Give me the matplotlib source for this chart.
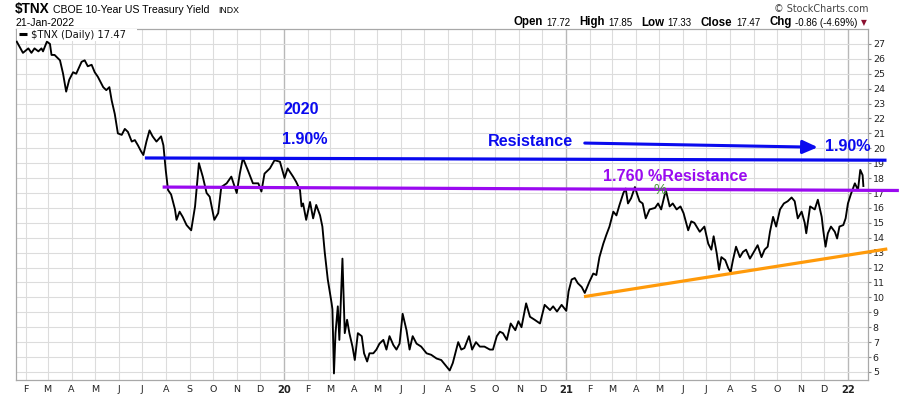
import matplotlib
matplotlib.use("Agg")
import matplotlib.pyplot as plt
import pandas as pd
from matplotlib.patches import Rectangle

# ---------------- data ----------------
dates = [
    "2019-01-20", "2019-01-28", "2019-02-04", "2019-02-08", "2019-02-12", "2019-02-17", "2019-02-21",
    "2019-02-23", "2019-02-28", "2019-03-04", "2019-03-06", "2019-03-10", "2019-03-17", "2019-03-21",
    "2019-03-25", "2019-03-29", "2019-04-03", "2019-04-07", "2019-04-14", "2019-04-18", "2019-04-22",
    "2019-04-27", "2019-05-01", "2019-05-05", "2019-05-12", "2019-05-16", "2019-05-20", "2019-05-23",
    "2019-05-27", "2019-05-31", "2019-06-05", "2019-06-09", "2019-06-13", "2019-06-18", "2019-06-22",
    "2019-06-26", "2019-06-30", "2019-07-03", "2019-07-07", "2019-07-11", "2019-07-15", "2019-07-20",
    "2019-07-26", "2019-07-29", "2019-08-01", "2019-08-04", "2019-08-08", "2019-08-13", "2019-08-15",
    "2019-08-19", "2019-08-23", "2019-08-28", "2019-09-03", "2019-09-08", "2019-09-13", "2019-09-18",
    "2019-09-23", "2019-09-27", "2019-10-03", "2019-10-08", "2019-10-12", "2019-10-19", "2019-10-25",
    "2019-11-01", "2019-11-05", "2019-11-09", "2019-11-16", "2019-11-22", "2019-11-29", "2019-12-03",
    "2019-12-07", "2019-12-14", "2019-12-20", "2019-12-27", "2020-01-02", "2020-01-06", "2020-01-13",
    "2020-01-17", "2020-01-22", "2020-01-24", "2020-01-26", "2020-01-30", "2020-02-04", "2020-02-08",
    "2020-02-12", "2020-02-17", "2020-02-20", "2020-02-23", "2020-02-27", "2020-03-03", "2020-03-04",
    "2020-03-06", "2020-03-08", "2020-03-11", "2020-03-13", "2020-03-17", "2020-03-20", "2020-03-23",
    "2020-03-26", "2020-03-30", "2020-04-02", "2020-04-06", "2020-04-11", "2020-04-14", "2020-04-18",
    "2020-04-21", "2020-04-26", "2020-04-30", "2020-05-04", "2020-05-09", "2020-05-13", "2020-05-17",
    "2020-05-22", "2020-05-26", "2020-05-30", "2020-06-03", "2020-06-08", "2020-06-12", "2020-06-16",
    "2020-06-21", "2020-06-27", "2020-07-04", "2020-07-10", "2020-07-17", "2020-07-23", "2020-07-30",
    "2020-08-03", "2020-08-07", "2020-08-14", "2020-08-18", "2020-08-22", "2020-08-28", "2020-09-01",
    "2020-09-06", "2020-09-11", "2020-09-17", "2020-09-24", "2020-09-28", "2020-10-03", "2020-10-07",
    "2020-10-11", "2020-10-16", "2020-10-21", "2020-10-27", "2020-10-31", "2020-11-04", "2020-11-10",
    "2020-11-15", "2020-11-21", "2020-11-28", "2020-12-04", "2020-12-11", "2020-12-15", "2020-12-20",
    "2020-12-26", "2021-01-01", "2021-01-04", "2021-01-08", "2021-01-12", "2021-01-16", "2021-01-21",
    "2021-01-25", "2021-01-31", "2021-02-05", "2021-02-09", "2021-02-13", "2021-02-18", "2021-02-22",
    "2021-02-26", "2021-03-03", "2021-03-07", "2021-03-11", "2021-03-16", "2021-03-19", "2021-03-22",
    "2021-03-26", "2021-03-31", "2021-04-03", "2021-04-06", "2021-04-10", "2021-04-14", "2021-04-19",
    "2021-04-26", "2021-04-30", "2021-05-04", "2021-05-10", "2021-05-15", "2021-05-19", "2021-05-24",
    "2021-05-29", "2021-06-02", "2021-06-08", "2021-06-12", "2021-06-16", "2021-06-23", "2021-06-29",
    "2021-07-04", "2021-07-08", "2021-07-11", "2021-07-15", "2021-07-18", "2021-07-21", "2021-07-26",
    "2021-07-30", "2021-08-02", "2021-08-05", "2021-08-09", "2021-08-14", "2021-08-18", "2021-08-22",
    "2021-08-27", "2021-08-31", "2021-09-06", "2021-09-11", "2021-09-15", "2021-09-19", "2021-09-22",
    "2021-09-26", "2021-09-30", "2021-10-05", "2021-10-10", "2021-10-15", "2021-10-20", "2021-10-24",
    "2021-10-28", "2021-11-02", "2021-11-06", "2021-11-08", "2021-11-13", "2021-11-19", "2021-11-23",
    "2021-11-28", "2021-11-30", "2021-12-03", "2021-12-06", "2021-12-10", "2021-12-15", "2021-12-18",
    "2021-12-21", "2021-12-26", "2021-12-29", "2022-01-01", "2022-01-05", "2022-01-10", "2022-01-14",
    "2022-01-17", "2022-01-20", "2022-01-21",
]
values = [
    27.15, 26.4, 26.7, 26.4, 26.7, 26.5, 26.7,
    26.5, 27.15, 27.0, 26.26, 26.26, 25.9, 25.0,
    23.8, 24.6, 25.1, 25.0, 25.8, 25.9, 25.5,
    25.6, 25.1, 24.8, 24.1, 23.9, 24.1, 23.2,
    22.3, 21.0, 20.9, 21.3, 21.1, 20.45, 20.55,
    20.2, 19.8, 19.55, 20.45, 21.2, 20.8, 20.45,
    20.8, 20.2, 18.55, 17.2, 16.9, 15.9, 15.2,
    15.75, 15.4, 14.85, 14.5, 16.1, 19.0, 18.1,
    17.0, 16.75, 15.2, 15.65, 17.4, 17.65, 18.1,
    17.0, 18.3, 19.35, 18.45, 17.65, 17.65, 17.1,
    18.3, 18.65, 19.2, 19.1, 18.0, 18.65, 18.1,
    17.75, 17.2, 16.1, 16.3, 15.2, 16.4, 15.3,
    16.2, 15.5, 14.75, 13.05, 11.2, 9.6, 9.2,
    4.9, 7.6, 9.4, 7.15, 12.6, 7.6, 8.5,
    7.6, 6.7, 5.8, 7.6, 7.4, 6.25, 5.7,
    6.25, 6.25, 6.5, 6.9, 7.15, 6.5, 7.4,
    6.8, 6.5, 6.9, 8.9, 7.8, 6.5, 7.4,
    6.9, 6.7, 6.25, 6.15, 5.9, 5.8, 5.35,
    5.1, 5.6, 7.0, 6.5, 6.6, 7.4, 6.5,
    7.0, 6.7, 6.7, 6.5, 6.5, 7.4, 7.7,
    7.6, 7.15, 8.25, 7.8, 8.4, 8.0, 9.6,
    8.7, 8.5, 8.25, 9.5, 9.15, 9.4, 9.05,
    9.5, 9.1, 10.4, 11.2, 11.3, 10.95, 10.7,
    10.3, 11.05, 11.6, 11.5, 12.7, 13.6, 14.2,
    14.75, 15.75, 15.5, 16.2, 17.0, 17.3, 16.3,
    16.65, 17.4, 16.9, 16.45, 16.3, 15.3, 15.9,
    16.0, 16.3, 15.9, 17.2, 16.1, 16.3, 15.9,
    16.1, 15.65, 14.5, 15.1, 15.0, 14.4, 14.75,
    13.6, 13.2, 14.1, 12.95, 11.85, 12.7, 12.5,
    11.95, 11.7, 12.5, 13.4, 12.7, 13.05, 13.2,
    12.6, 12.95, 13.5, 12.7, 13.2, 13.4, 14.4,
    15.4, 14.75, 15.9, 16.3, 16.45, 16.7, 16.45,
    15.3, 15.75, 15.0, 14.3, 16.1, 15.9, 16.55,
    15.4, 14.5, 13.4, 14.3, 14.75, 14.4, 13.95,
    14.75, 14.85, 15.3, 16.3, 16.95, 17.65, 17.2,
    18.55, 18.2, 17.47,
]

# annotation lines (dates, levels)
blue_res_dates = ["2019-07-05", "2022-02-20"]
blue_res_vals = [19.35, 19.2]
purple_res_dates = ["2019-07-28", "2022-03-08"]
purple_res_vals = [17.4, 17.17]
orange_sup_dates = ["2021-01-24", "2022-02-21"]
orange_sup_vals = [10.05, 13.25]
arrow_dates = ["2021-01-25", "2021-11-23"]
arrow_vals = [20.35, 20.07]

y_ticks = list(range(5, 28))
ohlc_labels = ["Open", "High", "Low", "Close", "Chg"]
ohlc_values = ["17.72", "17.85", "17.33", "17.47", "-0.86 (-4.69%)"]

# ---------------- figure ----------------
W, H = 900, 396
fig = plt.figure(figsize=(W / 100, H / 100), dpi=100)
L, R, T, B = 16, 868, 29, 380
ax = fig.add_axes([L / W, 1 - B / H, (R - L) / W, (B - T) / H])

BLUE = "#0a0aee"
PURPLE = "#9a0af0"
ORANGE = "#ff9a0a"
GRIDC = "#dcdcdc"
YEARC = "#b8b8b8"

d = pd.to_datetime(dates)
ax.plot(d, values, color="black", lw=1.35, zorder=4, solid_joinstyle="round")

ax.set_xlim(pd.Timestamp("2019-01-19"), pd.Timestamp("2022-01-27"))
ax.set_ylim(4.46, 28.0)

# x ticks: month starts
months = pd.date_range("2019-02-01", "2022-01-01", freq="MS")
mlabels = [m.strftime("%y") if m.month == 1 else m.strftime("%b")[0] for m in months]
ax.set_xticks(months)
ax.set_xticklabels(mlabels)
for lbl, m in zip(ax.get_xticklabels(), months):
    lbl.set_fontfamily("DejaVu Sans")
    lbl.set_fontsize(6.8)
    lbl.set_color("#222222")
    if m.month == 1:
        lbl.set_fontweight("bold")
        lbl.set_fontsize(7.2)
ax.tick_params(axis="x", length=0, pad=3.5)

ax.yaxis.tick_right()
ax.set_yticks(y_ticks)
ax.set_yticklabels([str(v) for v in y_ticks])
ax.tick_params(axis="y", length=2.5, width=0.8, color="#888888", pad=1, labelsize=6.8, labelcolor="#222222")
for lbl in ax.get_yticklabels():
    lbl.set_fontfamily("DejaVu Sans")

ax.grid(True, color=GRIDC, lw=0.8, zorder=0)
ax.set_axisbelow(True)
for gl, m in zip(ax.get_xgridlines(), months):
    if m.month == 1:
        gl.set_color(YEARC)
        gl.set_linewidth(1.0)
for sp in ax.spines.values():
    sp.set_color("#a8a8a8")
    sp.set_linewidth(0.9)

# annotation lines
ax.plot(pd.to_datetime(blue_res_dates), blue_res_vals, color=BLUE, lw=2.3, clip_on=False, zorder=5, solid_capstyle="butt")
ax.plot(pd.to_datetime(purple_res_dates), purple_res_vals, color=PURPLE, lw=2.3, clip_on=False, zorder=5, solid_capstyle="butt")
ax.plot(pd.to_datetime(orange_sup_dates), orange_sup_vals, color=ORANGE, lw=2.3, clip_on=False, zorder=5, solid_capstyle="butt")
ax.annotate("", xy=(pd.Timestamp(arrow_dates[1]), arrow_vals[1]),
            xytext=(pd.Timestamp(arrow_dates[0]), arrow_vals[0]),
            arrowprops=dict(arrowstyle="-|>,head_length=0.9,head_width=0.4", color=BLUE, lw=2.2,
                            shrinkA=0, shrinkB=0), zorder=6)

# annotation texts (pixel positions -> axes fraction)
def axpos(px, py):
    return ((px - L) / (R - L), (B - py) / (B - T))

afont = dict(family="Liberation Sans", fontweight="bold", fontsize=11.6, ha="center", va="center",
             transform=ax.transAxes, clip_on=False, zorder=7)
ax.text(*axpos(301, 110), "2020", color=BLUE, **afont)
ax.text(*axpos(305, 140), "1.90%", color=BLUE, **afont)
ax.text(*axpos(530, 141), "Resistance", color=BLUE, **afont)
ax.text(*axpos(848, 146.5), "1.90%", color=BLUE, **afont)
ax.text(*axpos(675.5, 176.5), "1.760 %Resistance", color=PURPLE, **afont)
ax.text(*axpos(660, 190.5), "%", color="#4a9a3a", family="Liberation Sans", fontsize=10.5,
        ha="center", va="center", transform=ax.transAxes, zorder=7)

# legend inside plot
ax.add_patch(Rectangle(axpos(L + 0.5, 40.5), (120) / (R - L), 11 / (B - T), transform=ax.transAxes,
                       facecolor="white", edgecolor="none", zorder=3))
ax.plot([(19 - L) / (R - L), (27 - L) / (R - L)], [axpos(0, 34)[1]] * 2, transform=ax.transAxes,
        color="black", lw=2.2, solid_capstyle="butt", zorder=8)
ax.text(*axpos(31, 34.5), "$TNX (Daily) 17.47", family="DejaVu Sans", fontsize=7.2, ha="left",
        va="center", transform=ax.transAxes, zorder=8, color="#111111")

# ---------------- header ----------------
def fpos(px, py):
    return (px / W, 1 - py / H)

fig.text(*fpos(15, 9.5), "$TNX", family="Liberation Sans", fontweight="bold", fontsize=9.8,
         ha="left", va="center")
fig.text(*fpos(53, 10), "CBOE 10-Year US Treasury Yield", family="Liberation Sans", fontsize=7.6,
         ha="left", va="center")
fig.text(*fpos(218, 10.5), "INDX", family="Liberation Sans", fontsize=6.3, ha="left", va="center")
fig.text(*fpos(15, 23), "21-Jan-2022", family="Liberation Sans", fontsize=7.6, ha="left", va="center")
fig.text(*fpos(868, 9.5), "\u00a9 StockCharts.com", family="DejaVu Sans", fontsize=6.9, color="#444444",
         ha="right", va="center")

renderer = fig.canvas.get_renderer()
x = 513.0
yc = 22.5
for lab, val in zip(ohlc_labels, ohlc_values):
    t = fig.text(*fpos(x, yc), lab, family="Liberation Sans", fontweight="bold", fontsize=8.3,
                 ha="left", va="center")
    x += t.get_window_extent(renderer).width + 3.5
    t2 = fig.text(*fpos(x, yc + 0.5), val, family="Liberation Sans", fontsize=7.0, ha="left", va="center")
    x += t2.get_window_extent(renderer).width + 9
fig.text(*fpos(x - 5, yc), "\u25bc", family=["DejaVu Sans"], fontsize=5.5, color="#8b1030",
         ha="left", va="center")

fig.savefig("out.png", dpi=100)
